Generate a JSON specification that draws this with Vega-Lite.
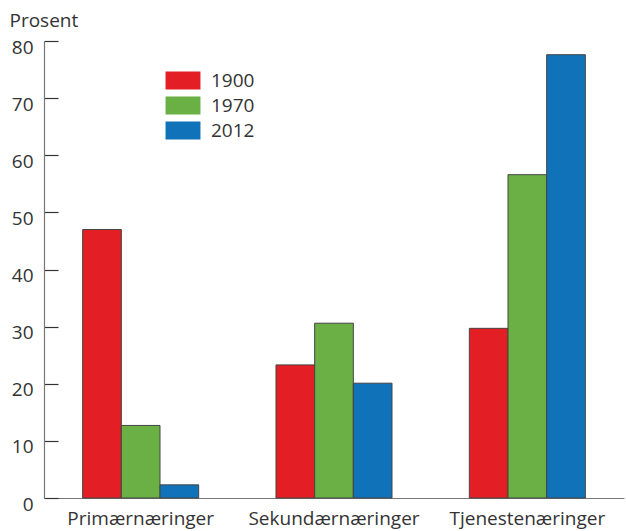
{
  "$schema": "https://vega.github.io/schema/vega-lite/v6.json",
  "autosize": "none",
  "width": 580,
  "height": 457,
  "padding": {"left": 44, "top": 41, "right": 2, "bottom": 33},
  "background": "white",
  "config": {
    "view": {"stroke": null},
    "font": "Open Sans",
    "axis": {"labelFont": "Open Sans", "titleFont": "Open Sans", "labelColor": "#333", "titleColor": "#333", "grid": false}
  },
  "data": {
    "values": [
      {"naering": "Primærnæringer", "aar": "1900", "prosent": 47},
      {"naering": "Primærnæringer", "aar": "1970", "prosent": 12.7},
      {"naering": "Primærnæringer", "aar": "2012", "prosent": 2.3},
      {"naering": "Sekundærnæringer", "aar": "1900", "prosent": 23.3},
      {"naering": "Sekundærnæringer", "aar": "1970", "prosent": 30.6},
      {"naering": "Sekundærnæringer", "aar": "2012", "prosent": 20.1},
      {"naering": "Tjenestenæringer", "aar": "1900", "prosent": 29.7},
      {"naering": "Tjenestenæringer", "aar": "1970", "prosent": 56.6},
      {"naering": "Tjenestenæringer", "aar": "2012", "prosent": 77.6}
    ]
  },
  "mark": {"type": "bar", "stroke": "#444", "strokeWidth": 1},
  "encoding": {
    "x": {
      "field": "naering",
      "type": "nominal",
      "sort": null,
      "scale": {"paddingInner": 0.4, "paddingOuter": 0.2},
      "axis": {
        "title": null,
        "labelAngle": 0,
        "ticks": false,
        "domainColor": "#777",
        "domainWidth": 1.2,
        "labelFontSize": 19,
        "labelPadding": 11
      }
    },
    "xOffset": {"field": "aar", "type": "nominal"},
    "y": {
      "field": "prosent",
      "type": "quantitative",
      "scale": {"domain": [0, 80], "nice": false},
      "axis": {
        "values": [0, 10, 20, 30, 40, 50, 60, 70, 80],
        "title": "Prosent",
        "titleAngle": 0,
        "titleAlign": "left",
        "titleBaseline": "alphabetic",
        "titleX": -35,
        "titleY": -15,
        "titleFontSize": 19,
        "titleFontWeight": "normal",
        "labelFontSize": 19,
        "labelBaseline": "middle",
        "labelOffset": 6,
        "tickSize": -14,
        "tickColor": "#333",
        "tickWidth": 1.2,
        "labelPadding": 25,
        "domainColor": "#777",
        "domainWidth": 1.2
      }
    },
    "color": {
      "field": "aar",
      "type": "nominal",
      "scale": {"domain": ["1900", "1970", "2012"], "range": ["#e31e24", "#6ab045", "#1072b9"]},
      "legend": {
        "title": null,
        "orient": "none",
        "legendX": 129.5,
        "legendY": 30,
        "symbolType": "M-1.94,-1H1.94V1H-1.94Z",
        "symbolSize": 324,
        "symbolStrokeWidth": 0,
        "labelFontSize": 19,
        "labelColor": "#333",
        "labelOffset": 18.5,
        "rowPadding": 5
      }
    }
  }
}
